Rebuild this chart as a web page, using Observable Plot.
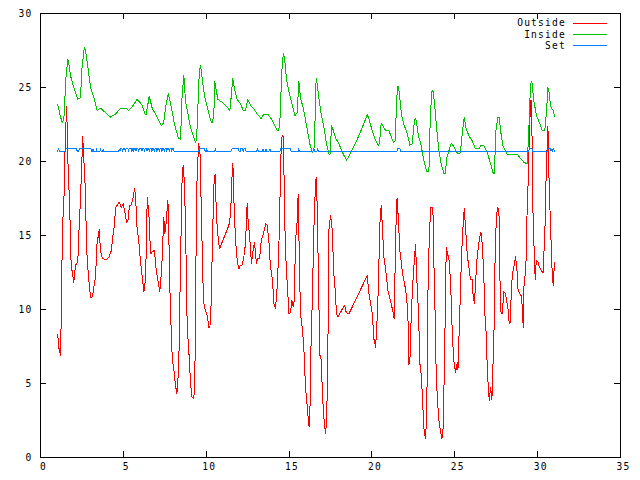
<!DOCTYPE html>
<html>
<head>
<meta charset="utf-8">
<script src="https://cdn.jsdelivr.net/npm/d3@7"></script>
<script src="https://cdn.jsdelivr.net/npm/@observablehq/plot@0.6"></script>
<style>
  html, body { margin: 0; padding: 0; background: #ffffff; }
  svg { display: block; }
</style>
</head>
<body>
<div id="chart"></div>
<script>
// Tick values
const xTicks = [0, 5, 10, 15, 20, 25, 30, 35];
const yTicks = [0, 5, 10, 15, 20, 25, 30];

// Legend labels and colours
const seriesNames = ["Outside", "Inside", "Set"];
const seriesColors = ["#ff0000", "#00c000", "#0080ff"];

// Outside temperature [day, value]
const outside = [
[1.04,8.3],[1.10,7.45],[1.21,6.9],[1.24,8.8],[1.27,11.2],[1.33,15.7],[1.41,17.25],[1.48,20.7],[1.57,23.7],[1.61,22.3],
[1.67,19.3],[1.77,16.9],[1.81,13.8],[1.87,12.9],[1.93,12.4],[2.01,11.85],[2.11,13.0],[2.2,13.1],[2.27,13.65],[2.33,15.55],
[2.41,17.4],[2.47,19.2],[2.55,21.7],[2.6,20.3],[2.66,19.4],[2.72,17.4],[2.78,14.2],[2.88,12.4],[2.96,11.5],[3.02,10.8],
[3.14,10.85],[3.22,11.5],[3.32,12.2],[3.42,14.65],[3.48,14.9],[3.54,15.4],[3.62,14.0],[3.72,13.5],[3.92,13.35],[4.12,13.5],
[4.28,14.0],[4.36,14.9],[4.47,15.8],[4.53,16.9],[4.63,17.05],[4.75,17.25],[4.87,16.9],[4.99,17.15],[5.07,16.7],[5.19,15.9],
[5.27,15.95],[5.37,17.0],[5.49,17.1],[5.59,17.6],[5.67,18.15],[5.73,17.8],[5.83,15.45],[5.93,14.65],[6.03,13.3],[6.14,12.2],
[6.24,11.2],[6.30,11.6],[6.38,13.75],[6.44,17.6],[6.54,16.45],[6.64,13.75],[6.74,13.9],[6.88,14.0],[6.96,12.85],[7.08,12.0],
[7.20,11.2],[7.32,12.9],[7.44,16.25],[7.50,15.1],[7.56,15.6],[7.69,17.4],[7.75,14.65],[7.85,9.25],[7.89,8.8],[7.95,6.65],
[8.05,5.9],[8.15,4.85],[8.23,4.3],[8.29,5.2],[8.35,6.65],[8.41,10.6],[8.48,15.0],[8.55,19.15],[8.61,19.75],[8.69,18.5],
[8.75,15.55],[8.81,12.0],[8.85,8.9],[8.95,7.2],[9.05,5.1],[9.13,4.1],[9.25,4.0],[9.31,5.0],[9.35,9.25],[9.42,18.0],
[9.54,21.2],[9.62,20.8],[9.70,16.9],[9.80,12.0],[9.86,10.4],[9.96,9.9],[10.06,9.6],[10.16,8.8],[10.22,8.8],[10.26,9.3],
[10.30,10.6],[10.36,13.75],[10.46,18.4],[10.54,19.15],[10.62,16.2],[10.70,15.1],[10.80,14.1],[10.96,14.55],[11.16,15.1],[11.37,15.7],
[11.47,16.4],[11.57,19.3],[11.61,19.9],[11.67,17.4],[11.77,14.65],[11.87,13.3],[11.97,12.75],[12.07,13.0],[12.17,13.0],[12.27,13.55],
[12.37,14.45],[12.47,17.15],[12.53,16.0],[12.63,14.8],[12.73,13.1],[12.83,14.0],[12.91,14.55],[13.03,13.1],[13.10,13.45],[13.22,13.45],
[13.32,14.65],[13.44,15.1],[13.52,15.45],[13.60,15.8],[13.68,15.7],[13.78,14.65],[13.88,12.85],[14.00,12.0],[14.08,10.4],[14.18,10.05],
[14.28,11.5],[14.38,14.0],[14.44,16.9],[14.48,18.95],[14.53,21.3],[14.59,21.75],[14.67,21.7],[14.70,18.5],[14.76,15.0],[14.83,12.85],
[14.93,10.95],[14.99,9.7],[15.09,9.8],[15.17,10.6],[15.25,10.2],[15.31,10.6],[15.39,14.65],[15.49,16.0],[15.55,17.8],[15.63,12.7],
[15.69,9.7],[15.79,8.8],[15.89,7.45],[15.99,4.75],[16.09,3.5],[16.19,2.15],[16.25,2.1],[16.29,6.1],[16.40,10.6],[16.50,15.55],
[16.60,18.7],[16.66,18.9],[16.74,14.2],[16.80,10.6],[16.84,7.0],[16.94,6.6],[17.02,4.1],[17.10,2.7],[17.20,1.6],[17.26,2.4],
[17.30,4.3],[17.36,9.15],[17.40,15.35],[17.50,16.35],[17.58,15.8],[17.64,14.2],[17.70,12.4],[17.80,11.05],[17.86,9.7],[17.95,9.5],
[18.10,9.8],[18.27,10.15],[18.35,10.3],[18.45,9.8],[18.61,9.7],[19.72,12.3],[19.82,11.05],[19.96,10.15],[20.02,9.7],[20.12,8.0],
[20.22,7.45],[20.28,8.5],[20.36,10.6],[20.42,13.1],[20.48,15.8],[20.56,17.0],[20.62,15.8],[20.72,13.55],[20.86,12.4],[20.96,11.3],
[21.06,10.85],[21.16,10.4],[21.28,9.8],[21.34,9.4],[21.40,12.85],[21.48,17.15],[21.52,17.5],[21.60,16.0],[21.68,14.0],[21.78,13.1],
[21.85,12.4],[21.97,11.75],[22.09,10.85],[22.17,9.7],[22.23,6.3],[22.29,6.5],[22.37,9.5],[22.43,11.0],[22.49,12.2],[22.57,13.55],
[22.63,14.4],[22.73,11.5],[22.83,9.4],[22.87,6.3],[22.93,6.3],[23.03,4.5],[23.13,2.05],[23.23,1.25],[23.30,2.7],[23.34,6.1],
[23.37,10.6],[23.44,14.0],[23.54,16.9],[23.64,16.9],[23.70,16.25],[23.74,13.1],[23.80,10.6],[23.84,7.1],[23.94,4.1],[24.04,2.5],
[24.14,1.8],[24.22,1.25],[24.28,1.5],[24.34,4.1],[24.38,7.35],[24.44,10.15],[24.48,14.2],[24.56,13.75],[24.64,13.5],[24.74,12.0],
[24.80,10.15],[24.85,8.35],[24.94,6.55],[25.05,5.75],[25.15,6.4],[25.19,5.9],[25.23,7.4],[25.30,9.7],[25.35,11.75],[25.45,14.65],
[25.51,15.8],[25.57,16.8],[25.65,15.55],[25.75,13.75],[25.85,12.85],[25.95,12.0],[26.05,12.0],[26.11,10.85],[26.19,10.4],[26.25,11.75],
[26.35,13.55],[26.45,14.45],[26.55,15.2],[26.61,15.1],[26.69,13.75],[26.75,12.4],[26.81,9.7],[26.87,9.0],[26.96,6.1],[27.02,4.75],
[27.08,3.85],[27.16,4.75],[27.24,3.9],[27.30,6.1],[27.36,8.15],[27.40,11.0],[27.44,14.1],[27.52,16.45],[27.60,16.9],[27.68,16.25],
[27.72,12.4],[27.76,10.25],[27.80,9.7],[27.86,9.75],[27.92,10.6],[27.96,11.2],[28.06,11.1],[28.12,10.6],[28.20,10.2],[28.27,9.25],
[28.33,9.0],[28.39,10.6],[28.47,12.4],[28.57,12.9],[28.67,13.55],[28.75,12.7],[28.81,11.4],[28.93,11.05],[29.03,10.9],[29.07,10.15],
[29.13,8.8],[29.15,10.6],[29.17,11.5],[29.29,12.85],[29.37,16.9],[29.43,18.7],[29.51,22.0],[29.57,24.1],[29.63,24.1],[29.67,21.0],
[29.71,16.9],[29.77,14.9],[29.81,12.85],[29.87,12.0],[29.91,13.3],[30.03,13.2],[30.11,12.85],[30.23,12.6],[30.33,12.5],[30.37,13.65],
[30.43,14.9],[30.50,18.5],[30.56,20.6],[30.62,22.4],[30.66,20.0],[30.68,19.15],[30.74,16.9],[30.82,14.3],[30.88,12.4],[30.94,11.6],
[30.98,12.5],[31.04,13.2]
];

// Inside temperature [day, value]
const inside = [
[1.04,23.83],[1.17,23.2],[1.31,22.6],[1.41,22.9],[1.53,25.6],[1.65,26.9],[1.71,26.6],[1.81,25.8],[2.01,25.0],[2.25,24.2],
[2.41,24.3],[2.51,26.4],[2.64,27.7],[2.72,27.5],[2.86,26.4],[3.02,25.0],[3.22,24.3],[3.42,23.45],[3.62,23.6],[3.92,23.3],
[4.22,23.0],[4.53,23.2],[4.83,23.6],[5.13,23.6],[5.33,23.45],[5.53,23.7],[5.83,24.2],[6.14,23.8],[6.30,23.2],[6.38,23.2],
[6.56,24.4],[6.74,23.6],[7.04,23.0],[7.30,22.4],[7.44,22.65],[7.54,23.6],[7.71,24.6],[7.85,23.9],[8.09,22.5],[8.31,21.6],
[8.45,21.5],[8.55,24.6],[8.65,25.8],[8.75,24.1],[9.05,22.3],[9.35,21.3],[9.42,21.5],[9.58,26.0],[9.66,26.5],[9.78,25.4],
[9.90,24.4],[10.06,23.7],[10.26,22.8],[10.36,22.6],[10.46,23.2],[10.52,25.4],[10.58,25.0],[10.70,24.2],[10.96,24.0],[11.16,23.8],
[11.43,23.45],[11.50,24.3],[11.60,25.6],[11.73,24.8],[11.87,24.2],[12.07,23.9],[12.23,23.45],[12.37,23.45],[12.51,24.2],[12.67,23.8],
[12.87,23.55],[13.08,23.2],[13.32,22.9],[13.48,23.2],[13.72,23.2],[13.98,22.8],[14.28,22.1],[14.38,22.1],[14.48,23.2],[14.54,25.8],
[14.65,27.3],[14.73,27.0],[14.85,25.5],[14.99,24.7],[15.19,23.8],[15.35,23.1],[15.49,23.3],[15.59,25.4],[15.69,24.3],[15.89,23.45],
[16.09,22.2],[16.25,21.2],[16.40,20.6],[16.54,21.0],[16.60,25.1],[16.66,25.6],[16.74,24.8],[16.90,23.45],[17.10,22.3],[17.26,21.2],
[17.40,20.5],[17.48,20.5],[17.56,22.4],[17.64,22.2],[17.80,21.6],[18.00,21.2],[18.27,20.5],[18.47,20.1],[18.58,20.3],[18.91,21.0],
[19.31,22.0],[19.72,23.15],[19.82,22.9],[19.96,22.3],[20.16,21.6],[20.38,21.1],[20.45,21.2],[20.56,22.6],[20.72,22.3],[20.82,22.1],
[21.02,22.1],[21.22,21.5],[21.32,21.3],[21.42,21.4],[21.48,24.1],[21.57,25.1],[21.65,24.7],[21.79,23.1],[21.93,22.5],[22.13,21.9],
[22.29,21.1],[22.43,21.2],[22.57,22.8],[22.65,22.9],[22.83,21.6],[22.93,21.3],[23.13,20.1],[23.30,19.35],[23.44,19.35],[23.50,22.1],
[23.60,24.7],[23.68,24.8],[23.78,23.9],[23.90,22.3],[24.04,20.7],[24.18,19.85],[24.34,19.2],[24.44,19.2],[24.50,20.2],[24.64,20.7],
[24.79,21.25],[24.94,21.0],[25.19,20.5],[25.34,20.6],[25.45,21.9],[25.57,23.0],[25.69,22.2],[25.85,21.75],[26.05,21.4],[26.25,20.85],
[26.45,20.85],[26.55,21.05],[26.76,21.05],[26.96,20.6],[27.16,19.85],[27.32,19.2],[27.40,19.2],[27.46,21.9],[27.60,23.0],[27.68,23.0],
[27.76,22.1],[27.92,21.0],[28.16,20.5],[28.46,20.5],[28.77,20.5],[28.97,20.2],[29.17,19.95],[29.37,19.85],[29.47,22.2],[29.57,25.25],
[29.65,25.4],[29.77,24.1],[29.93,23.1],[30.13,22.55],[30.27,22.1],[30.43,22.1],[30.54,23.45],[30.62,25.0],[30.70,24.6],[30.78,23.7],
[30.94,23.45],[31.04,23.0]
];

// Set-point temperature [day, value]
const setPoint = [
[1.04,20.7],[1.08,20.85],[1.14,20.7],[1.48,20.7],[1.54,20.85],[2.17,20.85],[2.22,20.7],[2.3,20.7],[2.36,20.85],[3.05,20.85],
[3.09,20.7],[3.15,20.7],[3.17,20.85],[3.2,20.7],[3.36,20.7],[3.38,20.85],[3.41,20.7],[3.6,20.7],[3.62,20.85],[3.65,20.7],
[3.76,20.7],[3.78,20.85],[3.81,20.7],[4.72,20.7],[4.75,20.85],[4.8,20.7],[4.84,20.85],[4.93,20.85],[4.96,20.7],[5.0,20.85],
[5.08,20.85],[5.11,20.7],[5.15,20.85],[5.28,20.85],[5.31,20.7],[5.35,20.85],[5.48,20.85],[5.51,20.7],[5.55,20.85],[5.6,20.85],
[5.63,20.7],[5.67,20.85],[5.74,20.85],[5.77,20.7],[5.81,20.85],[5.89,20.85],[5.92,20.7],[5.96,20.85],[6.09,20.85],[6.12,20.7],
[6.16,20.85],[6.24,20.85],[6.27,20.7],[6.31,20.85],[6.39,20.85],[6.42,20.7],[6.46,20.85],[6.54,20.85],[6.57,20.7],[6.61,20.85],
[6.69,20.85],[6.72,20.7],[6.76,20.85],[6.84,20.85],[6.87,20.7],[6.91,20.85],[6.99,20.85],[7.02,20.7],[7.06,20.85],[7.14,20.85],
[7.17,20.7],[7.21,20.85],[7.29,20.85],[7.32,20.7],[7.36,20.85],[7.44,20.85],[7.47,20.7],[7.51,20.85],[7.59,20.85],[7.62,20.7],
[7.66,20.85],[7.74,20.85],[7.77,20.7],[7.81,20.85],[7.89,20.85],[7.92,20.7],[7.96,20.85],[8.02,20.85],[8.05,20.7],[9.54,20.7],
[9.58,20.85],[9.9,20.85],[9.94,20.7],[10.0,20.7],[10.03,20.85],[10.06,20.7],[10.52,20.7],[10.56,20.85],[10.6,20.7],[11.5,20.7],
[11.55,20.85],[11.95,20.85],[11.98,20.7],[12.05,20.7],[12.08,20.85],[12.2,20.85],[12.23,20.7],[12.27,20.85],[12.37,20.85],[12.4,20.7],
[13.05,20.7],[13.1,20.85],[13.15,20.7],[13.38,20.7],[13.42,20.85],[13.46,20.7],[13.56,20.7],[13.6,20.85],[13.64,20.7],[13.8,20.7],
[13.84,20.85],[13.88,20.7],[14.45,20.7],[14.5,20.85],[15.08,20.85],[15.12,20.7],[15.55,20.7],[15.58,20.85],[15.62,20.7],[16.45,20.7],
[16.5,20.85],[16.54,20.7],[16.68,20.7],[16.72,20.85],[16.76,20.7],[21.52,20.7],[21.55,20.85],[21.7,20.85],[21.73,20.7],[29.45,20.7],
[29.5,20.85],[29.65,20.85],[29.7,20.7],[30.58,20.7],[30.62,20.85],[30.76,20.85],[30.8,20.7],[30.86,20.85],[30.9,20.7],[30.96,20.85],
[31.02,20.7]
];

const FONT = "'DejaVu Sans Mono', 'Liberation Mono', monospace";
const FONT_SIZE = "9.6px";
const LETTER_SPACING = "1.2px";

const svg = Plot.plot({
  width: 640,
  height: 480,
  marginLeft: 40,
  marginRight: 20,
  marginTop: 13,
  marginBottom: 23,
  x: { domain: [0, 35], axis: null },
  y: { domain: [0, 30], axis: null },
  style: { fontFamily: FONT, fontSize: FONT_SIZE, letterSpacing: LETTER_SPACING, background: "#ffffff", color: "#000" },
  marks: [
    // data lines (drawn in gnuplot order)
    Plot.line(outside, { x: d => d[0], y: d => d[1], stroke: seriesColors[0], strokeWidth: 1, shapeRendering: "crispEdges" }),
    Plot.line(inside, { x: d => d[0], y: d => d[1], stroke: seriesColors[1], strokeWidth: 1, shapeRendering: "crispEdges" }),
    Plot.line(setPoint, { x: d => d[0], y: d => d[1], stroke: seriesColors[2], strokeWidth: 1, shapeRendering: "crispEdges" }),
    // inward ticks on all four sides
    Plot.tickX(xTicks, { x: d => d, insetTop: 438, stroke: "#000", shapeRendering: "crispEdges" }),
    Plot.tickX(xTicks, { x: d => d, insetBottom: 438, stroke: "#000", shapeRendering: "crispEdges" }),
    Plot.tickY(yTicks, { y: d => d, insetRight: 574, stroke: "#000", shapeRendering: "crispEdges" }),
    Plot.tickY(yTicks, { y: d => d, insetLeft: 574, stroke: "#000", shapeRendering: "crispEdges" }),
    Plot.frame({ stroke: "#000", strokeWidth: 1, shapeRendering: "crispEdges" }),
    // tick labels
    Plot.text(xTicks, { x: d => d, text: d => String(d), frameAnchor: "bottom", dy: 12, dx: 3, fill: "#000" }),
    Plot.text(yTicks, { y: d => d, text: d => String(d), frameAnchor: "left", dx: -8, textAnchor: "end", fill: "#000" })
  ]
});

// Key in the top-right corner, gnuplot style
const key = d3.select(svg).append("g")
  .attr("font-family", FONT).attr("font-size", FONT_SIZE).attr("letter-spacing", LETTER_SPACING);
seriesNames.forEach((name, i) => {
  const yy = 23 + i * 11.4;
  key.append("text").attr("x", 566).attr("y", yy).attr("dy", "0.35em")
    .attr("text-anchor", "end").attr("fill", "#000").text(name);
  key.append("line").attr("x1", 573).attr("x2", 607).attr("y1", yy).attr("y2", yy)
    .attr("stroke", seriesColors[i]).attr("stroke-width", 1).attr("shape-rendering", "crispEdges");
});

document.getElementById("chart").appendChild(svg);
</script>
</body>
</html>
